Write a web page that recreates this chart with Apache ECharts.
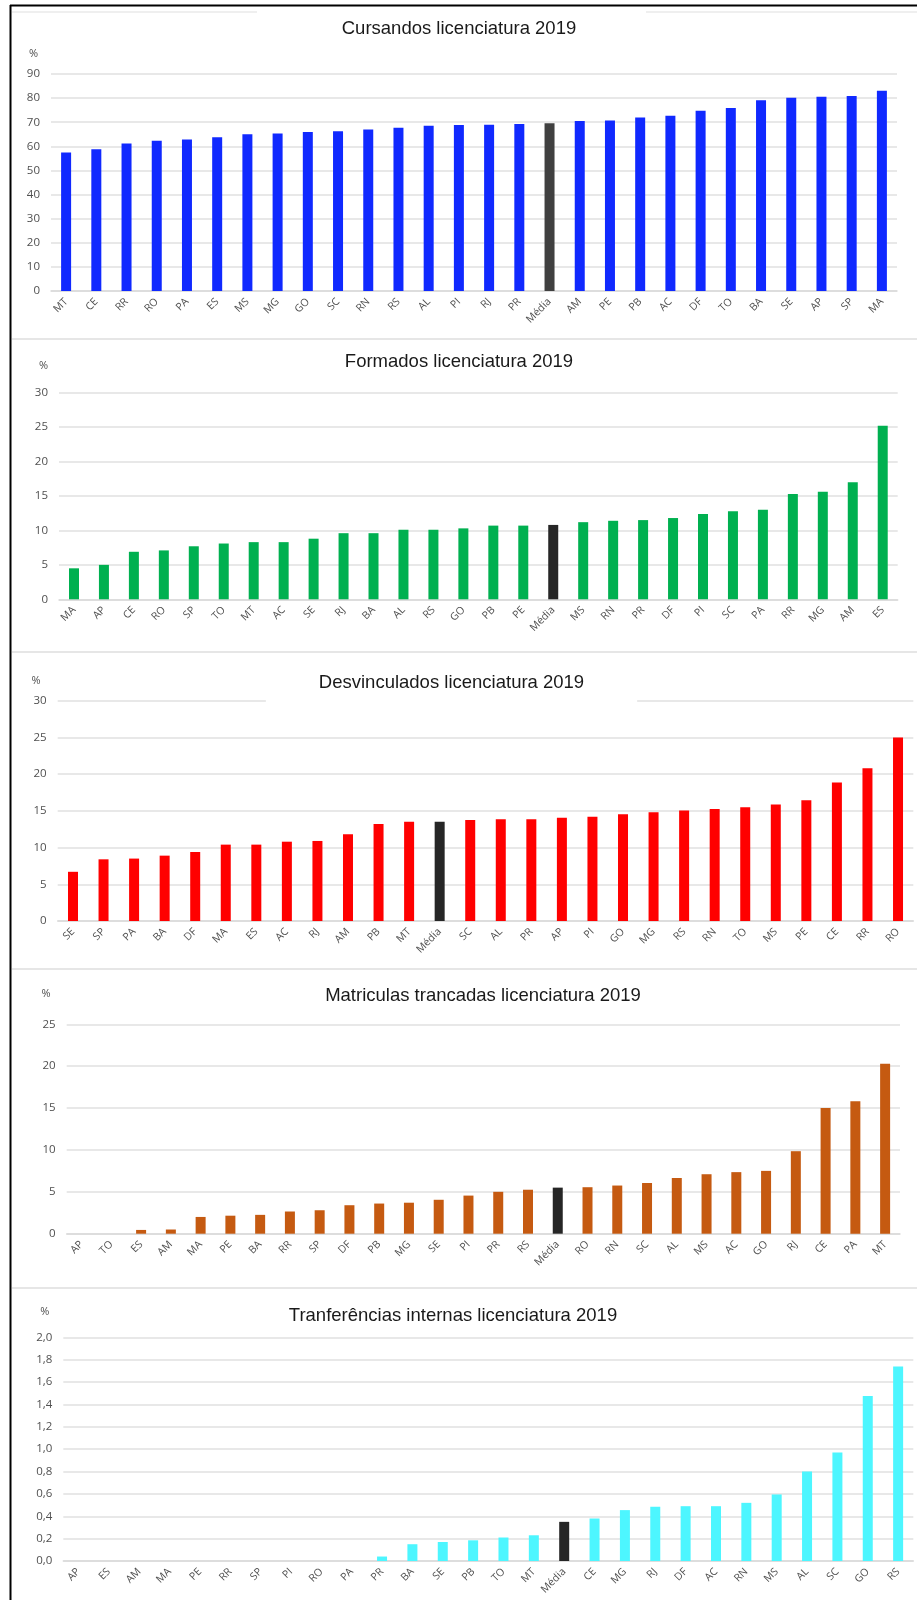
<!DOCTYPE html>
<html><head><meta charset="utf-8">
<script src="https://cdn.jsdelivr.net/npm/echarts@6/dist/echarts.min.js"></script>
<style>html,body{margin:0;padding:0;background:#fff}#c{width:917px;height:1600px}</style>
</head><body><div id="c"></div>
<script>
// ---------- data ----------
const title1 = 'Cursandos licenciatura 2019';
const cat1 = ['MT','CE','RR','RO','PA','ES','MS','MG','GO','SC','RN','RS','AL','PI','RJ','PR','Média','AM','PE','PB','AC','DF','TO','BA','SE','AP','SP','MA'];
const val1 = [57.4,58.8,61.2,62.3,62.8,63.8,65.0,65.3,65.9,66.3,67.0,67.7,68.5,68.8,68.9,69.3,69.6,70.5,70.7,72.0,72.7,74.8,75.9,79.1,80.2,80.6,80.9,83.1];

const title2 = 'Formados licenciatura 2019';
const cat2 = ['MA','AP','CE','RO','SP','TO','MT','AC','SE','RJ','BA','AL','RS','GO','PB','PE','Média','MS','RN','PR','DF','PI','SC','PA','RR','MG','AM','ES'];
const val2 = [4.5,5.0,6.9,7.1,7.7,8.1,8.3,8.3,8.8,9.6,9.6,10.1,10.1,10.3,10.7,10.7,10.8,11.2,11.4,11.5,11.8,12.4,12.8,13.0,15.3,15.6,17.0,25.2];

const title3 = 'Desvinculados licenciatura 2019';
const cat3 = ['SE','SP','PA','BA','DF','MA','ES','AC','RJ','AM','PB','MT','Média','SC','AL','PR','AP','PI','GO','MG','RS','RN','TO','MS','PE','CE','RR','RO'];
const val3 = [6.7,8.4,8.5,8.9,9.4,10.4,10.4,10.8,10.9,11.8,13.2,13.5,13.5,13.75,13.85,13.85,14.05,14.2,14.55,14.8,15.05,15.25,15.5,15.85,16.45,18.85,20.8,25.0];

const title4 = 'Matriculas trancadas licenciatura 2019';
const cat4 = ['AP','TO','ES','AM','MA','PE','BA','RR','SP','DF','PB','MG','SE','PI','PR','RS','Média','RO','RN','SC','AL','MS','AC','GO','RJ','CE','PA','MT'];
const val4 = [0,0,0.45,0.5,2.0,2.15,2.25,2.65,2.8,3.4,3.6,3.7,4.05,4.55,5.0,5.25,5.5,5.55,5.75,6.05,6.65,7.1,7.35,7.5,9.85,15.0,15.8,20.3];

const title5 = 'Tranferências internas licenciatura 2019';
const cat5 = ['AP','ES','AM','MA','PE','RR','SP','PI','RO','PA','PR','BA','SE','PB','TO','MT','Média','CE','MG','RJ','DF','AC','RN','MS','AL','SC','GO','RS'];
const val5 = [0,0,0,0,0,0,0,0,0,0,0.04,0.15,0.17,0.185,0.21,0.23,0.35,0.38,0.455,0.485,0.49,0.49,0.52,0.595,0.8,0.97,1.475,1.74];

const yMax = [90, 30, 30, 25, 2];
const yStep = [10, 5, 5, 5, 0.2];
const yUnit = '%';
const mediaLabel = 'Média';

// ---------- layout / style ----------
const specs = [
  {title:title1, cats:cat1, vals:val1, color:'#1029FF', media:'#404040', grid:{left:51, top:74, width:846, height:217}, tx:459, ty:29, nameGap:15, nameRight:13, dec:0},
  {title:title2, cats:cat2, vals:val2, color:'#00B050', media:'#262626', grid:{left:59, top:392.7, width:838.7, height:206.6}, tx:459, ty:362, nameGap:21, nameRight:11, dec:0},
  {title:title3, cats:cat3, vals:val3, color:'#FF0000', media:'#262626', grid:{left:57.7, top:700.7, width:855.6, height:220.3}, tx:451.5, ty:683, nameGap:14, nameRight:17, dec:0, box:true},
  {title:title4, cats:cat4, vals:val4, color:'#C55A11', media:'#262626', grid:{left:66.7, top:1024.3, width:833.3, height:209.4}, tx:483, ty:996, nameGap:25, nameRight:16, dec:0},
  {title:title5, cats:cat5, vals:val5, color:'#4DF6FF', media:'#262626', grid:{left:63.3, top:1337.3, width:850, height:223.7}, tx:453, ty:1316, nameGap:20, nameRight:14, dec:1}
];

const labelColor = '#505050';
const gridColor = '#e0e0e0';
const option = {
  animation: false,
  backgroundColor: '#ffffff',
  title: [], grid: [], xAxis: [], yAxis: [], series: [],
  graphic: [
    {type:'line', shape:{x1:10.5, y1:5, x2:10.5, y2:1600}, style:{stroke:'#000', lineWidth:2}, z:10},
    {type:'line', shape:{x1:10, y1:5.5, x2:917, y2:5.5}, style:{stroke:'#000', lineWidth:2}, z:10},
    {type:'line', shape:{x1:12, y1:12, x2:257, y2:12}, style:{stroke:'#efefef', lineWidth:2}},
    {type:'line', shape:{x1:646, y1:12, x2:917, y2:12}, style:{stroke:'#efefef', lineWidth:2}},
    {type:'line', shape:{x1:12, y1:339, x2:917, y2:339}, style:{stroke:'#e6e6e6', lineWidth:2}},
    {type:'line', shape:{x1:12, y1:652, x2:917, y2:652}, style:{stroke:'#e6e6e6', lineWidth:2}},
    {type:'line', shape:{x1:12, y1:969, x2:917, y2:969}, style:{stroke:'#e6e6e6', lineWidth:2}},
    {type:'line', shape:{x1:12, y1:1288, x2:917, y2:1288}, style:{stroke:'#e6e6e6', lineWidth:2}}
  ]
};

specs.forEach((s, i) => {
  const padV = s.box ? 10 : 0, padH = s.box ? 53 : 0;
  option.title.push({
    text: s.title,
    left: s.tx - padH, top: s.ty - padV,
    textAlign: 'center', textVerticalAlign: 'middle',
    padding: [padV, padH, padV, padH],
    backgroundColor: s.box ? '#ffffff' : 'transparent',
    z: 20,
    textStyle: {fontFamily: 'Liberation Sans', fontSize: 18.5, fontWeight: 'normal', color: '#1a1a1a'}
  });
  option.grid.push(Object.assign({containLabel:false}, s.grid));
  option.xAxis.push({
    type: 'category', gridIndex: i, data: s.cats,
    axisTick: {show: false},
    axisLine: {lineStyle: {color: '#d9d9d9', width: 1.5}},
    axisLabel: {interval: 0, rotate: 45, color: labelColor, fontFamily: 'Open Sans', fontSize: 10.5, margin: 9}
  });
  option.yAxis.push({
    type: 'value', gridIndex: i, min: 0, max: yMax[i], interval: yStep[i],
    name: yUnit, nameLocation: 'end', nameGap: s.nameGap,
    nameTextStyle: {color: labelColor, fontFamily: 'Open Sans', fontSize: 11, align: 'right', padding: [0, s.nameRight, 0, 0]},
    axisLine: {show: false}, axisTick: {show: false},
    axisLabel: {color: labelColor, fontFamily: 'Open Sans', fontSize: 11.5, margin: 11,
      formatter: v => s.dec ? v.toFixed(s.dec).replace('.', ',') : String(Math.round(v))},
    splitLine: {lineStyle: {color: gridColor, width: 1.5}}
  });
  option.series.push({
    type: 'bar', xAxisIndex: i, yAxisIndex: i, barWidth: 10,
    data: s.vals.map((v, k) => ({value: v, itemStyle: {color: s.cats[k] === mediaLabel ? s.media : s.color}}))
  });
});

const chart = echarts.init(document.getElementById('c'), null, {renderer: 'canvas'});
chart.setOption(option);
</script>
</body></html>
